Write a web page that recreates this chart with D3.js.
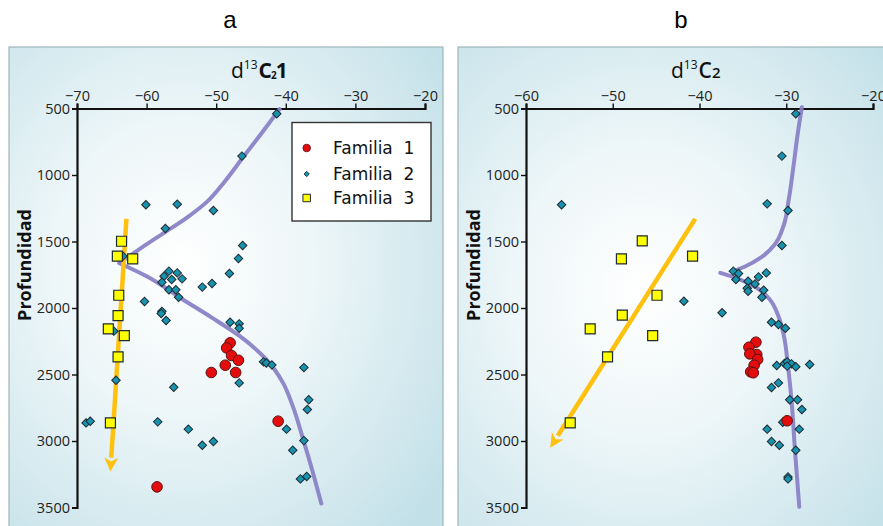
<!DOCTYPE html>
<html>
<head>
<meta charset="utf-8">
<script src="https://cdn.jsdelivr.net/npm/d3@7"></script>
<style>
  html, body { margin: 0; padding: 0; background: #ffffff; }
  svg { display: block; }
</style>
</head>
<body>
<svg id="chart" width="883" height="526"></svg>
<script>
// ---- Depth ticks and isotope ticks ----
const depthTicks = [500, 1000, 1500, 2000, 2500, 3000, 3500];
const c1Ticks = [-70, -60, -50, -40, -30, -20];
const c2Ticks = [-60, -50, -40, -30, -20];

// ---- Panel a: d13C1 vs depth ----
const a_fam1 = [[-48.0,2262],[-48.5,2300],[-47.8,2357],[-46.8,2393],[-48.7,2430],[-47.2,2485],[-50.7,2485],[-41.1,2851],[-58.5,3345]];
const a_fam2 = [[-41.3,540],[-46.3,858],[-60.1,1224],[-55.6,1220],[-50.4,1267],[-57.3,1402],[-46.2,1530],[-63.4,1610],
  [-46.8,1628],[-56.8,1723],[-55.6,1736],[-48.1,1741],[-57.5,1761],[-56.4,1786],[-54.9,1781],[-57.8,1806],
  [-56.8,1863],[-55.8,1863],[-52.0,1843],[-50.6,1816],[-55.4,1919],[-60.3,1951],[-57.8,2025],[-57.9,2041],
  [-57.2,2094],[-48.0,2107],[-46.7,2119],[-46.7,2152],[-64.7,2174],[-43.2,2405],[-42.8,2413],[-42.0,2428],
  [-37.4,2448],[-46.7,2563],[-56.1,2596],[-64.4,2543],[-36.7,2690],[-36.9,2763],[-68.7,2864],[-68.1,2852],
  [-58.4,2856],[-54.0,2911],[-52.0,3032],[-50.4,3004],[-39.9,2911],[-37.4,2997],[-39.0,3069],[-37.9,3285],[-37.0,3267]];
const a_fam3 = [[-63.6,1498],[-64.2,1610],[-62.0,1630],[-64.0,1904],[-64.1,2057],[-65.5,2157],[-63.2,2207],[-64.1,2367],[-65.2,2864]];
const a_trendUpper = [[-40.9,505],[-43.4,680],[-46.2,871],[-48.8,1050],[-51.3,1200],[-54.2,1320],[-57.5,1435],[-60.4,1535],[-62.5,1610],[-63.9,1660]];
const a_trendLower = [[-63.9,1663],[-60.0,1761],[-54.8,1936],[-50.7,2070],[-46.6,2212],[-42.8,2387],[-40.4,2563],[-39.0,2738],[-37.5,2989],[-36.1,3239],[-34.9,3470]];
const a_arrow = [[-62.9,1330],[-65.2,3230]];

// ---- Panel b: d13C2 vs depth ----
const b_fam1 = [[-33.5,2257],[-34.3,2295],[-33.4,2350],[-34.2,2345],[-33.3,2387],[-33.7,2430],[-34.1,2480],[-33.8,2487],[-29.9,2848]];
const b_fam2 = [[-28.9,540],[-30.5,858],[-55.9,1224],[-32.2,1217],[-29.8,1267],[-30.5,1530],[-36.1,1723],[-35.5,1741],
  [-35.8,1786],[-32.3,1736],[-33.2,1766],[-34.4,1799],[-33.6,1819],[-34.5,1851],[-34.4,1874],[-32.6,1866],
  [-32.8,1919],[-41.8,1949],[-37.4,2036],[-31.7,2107],[-30.9,2124],[-30.1,2152],[-31.1,2432],[-30.2,2417],
  [-29.9,2405],[-29.4,2420],[-28.9,2442],[-29.9,2437],[-27.3,2425],[-31.7,2598],[-30.9,2563],[-29.6,2690],
  [-28.7,2690],[-28.2,2763],[-30.4,2859],[-32.2,2911],[-28.5,2911],[-31.7,3004],[-30.8,3032],[-28.9,3069],
  [-29.8,3270],[-29.8,3285]];
const b_fam3 = [[-46.6,1495],[-49.0,1630],[-40.8,1610],[-44.9,1904],[-48.9,2054],[-52.6,2157],[-45.4,2207],[-50.6,2367],[-54.9,2864]];
const b_trendUpper = [[-28.2,490],[-28.7,700],[-29.2,950],[-29.7,1180],[-30.3,1380],[-31.3,1520],[-32.9,1620],[-34.8,1690],[-36.1,1723]];
const b_trendLower = [[-37.6,1736],[-35.3,1786],[-33.4,1848],[-31.9,1936],[-30.9,2062],[-30.3,2200],[-29.8,2437],[-29.4,2688],[-29.0,3064],[-28.5,3495]];
const b_arrow = [[-40.5,1330],[-57.2,3050]];

const legendLabels = ["Familia  1", "Familia  2", "Familia  3"];

// ---- Styles ----
const col = {
  red: "#e40d0d", teal: "#1793b0", yellow: "#ffff00", trend: "#8a82c6", arrow: "#ffc10e",
  stroke: "#1d2a30"
};
const tickFont = "'Open Sans', 'Liberation Sans', sans-serif";

const svg = d3.select("#chart");
const defs = svg.append("defs");

function gradient(id, cx, cy) {
  const g = defs.append("radialGradient").attr("id", id)
    .attr("cx", cx).attr("cy", cy).attr("r", "0.75");
  g.append("stop").attr("offset", "0%").attr("stop-color", "#ffffff");
  g.append("stop").attr("offset", "40%").attr("stop-color", "#edf6f8");
  g.append("stop").attr("offset", "100%").attr("stop-color", "#c2e0e8");
}
gradient("bgA", "0.4", "0.45");
gradient("bgB", "0.42", "0.5");

const y = d3.scaleLinear().domain([500, 3500]).range([108.5, 507.5]);

// Panel titles
svg.append("text").attr("x", 230).attr("y", 28).attr("text-anchor", "middle")
  .attr("font-family", "'Liberation Sans', Arial, sans-serif").attr("font-size", 24).text("a");
svg.append("text").attr("x", 681).attr("y", 28).attr("text-anchor", "middle")
  .attr("font-family", "'Liberation Sans', Arial, sans-serif").attr("font-size", 24).text("b");

function panel(opts) {
  const g = svg.append("g");
  g.append("rect").attr("x", opts.box[0]).attr("y", opts.box[1])
    .attr("width", opts.box[2]).attr("height", opts.box[3])
    .attr("fill", `url(#${opts.bg})`).attr("stroke", "#9fb4ba").attr("stroke-width", 1.2);

  const x = opts.x;

  // axes
  const xAxis = d3.axisTop(x).tickValues(opts.xTicks).tickFormat(d3.format("d")).tickSize(5).tickPadding(3);
  const gx = g.append("g").attr("transform", `translate(0,${y(500)})`).call(xAxis);
  const yAxis = d3.axisLeft(y).tickValues(depthTicks).tickFormat(d3.format("d")).tickSize(5).tickPadding(2);
  const gy = g.append("g").attr("transform", `translate(${x.range()[0]},0)`).call(yAxis);
  [gx, gy].forEach(ax => {
    ax.select(".domain").attr("stroke", "#111").attr("stroke-width", 2.2);
    ax.selectAll(".tick line").attr("stroke", "#111").attr("stroke-width", 1.4);
    ax.selectAll(".tick text").attr("font-family", tickFont).attr("font-size", 14.5).attr("fill", "#222");
  });

  // depth label
  g.append("text").attr("transform", `translate(${opts.yLabelX},265) rotate(-90)`)
    .attr("text-anchor", "middle").attr("font-family", "'Open Sans', 'Liberation Sans', sans-serif")
    .attr("font-weight", "bold").attr("font-size", 18).attr("fill", "#111").text("Profundidad");

  opts.title(g);

  const line = d3.line().x(d => x(d[0])).y(d => y(d[1])).curve(d3.curveMonotoneY);
  [opts.upper, opts.lower].forEach(seg => {
    g.append("path").attr("d", line(seg)).attr("fill", "none")
      .attr("stroke", col.trend).attr("stroke-width", 4).attr("stroke-linecap", "round")
      .attr("stroke-opacity", 0.95);
  });

  // yellow trend arrow
  const [p0, p1] = opts.arrow.map(d => [x(d[0]), y(d[1])]);
  const ang = Math.atan2(p1[1] - p0[1], p1[0] - p0[0]);
  const headLen = 14, headW = 7;
  const base = [p1[0] - headLen * Math.cos(ang), p1[1] - headLen * Math.sin(ang)];
  g.append("line").attr("x1", p0[0]).attr("y1", p0[1]).attr("x2", base[0]).attr("y2", base[1])
    .attr("stroke", col.arrow).attr("stroke-width", 4.5);
  const nx = -Math.sin(ang), ny = Math.cos(ang);
  g.append("path").attr("d", `M${p1[0]},${p1[1]}L${base[0] + nx * headW},${base[1] + ny * headW}` +
      `L${p1[0] - (headLen - 4) * Math.cos(ang)},${p1[1] - (headLen - 4) * Math.sin(ang)}` +
      `L${base[0] - nx * headW},${base[1] - ny * headW}Z`)
    .attr("fill", col.arrow);

  // Familia 2: diamonds
  const diamond = d3.symbol(d3.symbolSquare, 36);
  g.append("g").selectAll("path").data(opts.fam2).join("path")
    .attr("d", diamond)
    .attr("transform", d => `translate(${x(d[0])},${y(d[1])}) rotate(45)`)
    .attr("fill", col.teal).attr("stroke", col.stroke).attr("stroke-width", 1);

  // Familia 1: circles
  g.append("g").selectAll("circle").data(opts.fam1).join("circle")
    .attr("cx", d => x(d[0])).attr("cy", d => y(d[1])).attr("r", 5.3)
    .attr("fill", col.red).attr("stroke", "#5a1010").attr("stroke-width", 1);

  // Familia 3: squares
  const sq = d3.symbol(d3.symbolSquare, 100);
  g.append("g").selectAll("path").data(opts.fam3).join("path")
    .attr("d", sq)
    .attr("transform", d => `translate(${x(d[0])},${y(d[1])})`)
    .attr("fill", col.yellow).attr("stroke", col.stroke).attr("stroke-width", 1.2);

  return g;
}

const xA = d3.scaleLinear().domain([-70, -20]).range([77, 425]);
const xB = d3.scaleLinear().domain([-60, -20]).range([526, 873]);

const gA = panel({
  box: [9, 47, 434, 490], bg: "bgA", x: xA, xTicks: c1Ticks, yLabelX: 31,
  fam1: a_fam1, fam2: a_fam2, fam3: a_fam3, upper: a_trendUpper, lower: a_trendLower, arrow: a_arrow,
  title: g => {
    const t = g.append("text").attr("x", 231).attr("y", 78)
      .attr("font-family", "'Open Sans', 'Liberation Sans', sans-serif").attr("font-size", 21).attr("fill", "#111");
    t.append("tspan").text("d");
    t.append("tspan").attr("font-size", 12).attr("dy", -9).text("13");
    t.append("tspan").attr("font-weight", "bold").attr("dy", 9).attr("dx", 1).text("C");
    t.append("tspan").attr("font-size", 10).attr("font-weight", "bold").attr("dx", -1).attr("dy", 1).text("2");
    t.append("tspan").attr("font-weight", "bold").attr("dx", -1).attr("dy", -1).text("1");
  }
});

const gB = panel({
  box: [458, 47, 440, 490], bg: "bgB", x: xB, xTicks: c2Ticks, yLabelX: 480,
  fam1: b_fam1, fam2: b_fam2, fam3: b_fam3, upper: b_trendUpper, lower: b_trendLower, arrow: b_arrow,
  title: g => {
    const t = g.append("text").attr("x", 671).attr("y", 78)
      .attr("font-family", "'Open Sans', 'Liberation Sans', sans-serif").attr("font-size", 21).attr("fill", "#111");
    t.append("tspan").text("d");
    t.append("tspan").attr("font-size", 12).attr("dy", -9).text("13");
    t.append("tspan").attr("font-weight", 600).attr("dy", 9).attr("dx", 1).text("C");
    t.append("tspan").attr("font-size", 15).attr("font-weight", 600).text("2");
  }
});

// Legend (panel a)
const lg = gA.append("g");
lg.append("rect").attr("x", 292).attr("y", 122.5).attr("width", 139).attr("height", 98.5)
  .attr("fill", "#ffffff").attr("stroke", "#333").attr("stroke-width", 1.4);
const ly = [148, 174, 198];
lg.append("circle").attr("cx", 306.7).attr("cy", ly[0]).attr("r", 3.8)
  .attr("fill", col.red).attr("stroke", "#5a1010").attr("stroke-width", 0.8);
lg.append("path").attr("d", d3.symbol(d3.symbolSquare, 14)())
  .attr("transform", `translate(306.7,${ly[1]}) rotate(45)`)
  .attr("fill", col.teal).attr("stroke", col.stroke).attr("stroke-width", 0.8);
lg.append("path").attr("d", d3.symbol(d3.symbolSquare, 56)())
  .attr("transform", `translate(306.7,${ly[2]})`)
  .attr("fill", col.yellow).attr("stroke", col.stroke).attr("stroke-width", 1);
lg.selectAll("text.lab").data(legendLabels).join("text").attr("class", "lab")
  .attr("x", 333).attr("y", (d, i) => ly[i] + 6)
  .attr("font-family", "'DejaVu Sans', Verdana, sans-serif").attr("font-size", 17).attr("fill", "#111")
  .attr("xml:space", "preserve").style("white-space", "pre").text(d => d);
</script>
</body>
</html>
